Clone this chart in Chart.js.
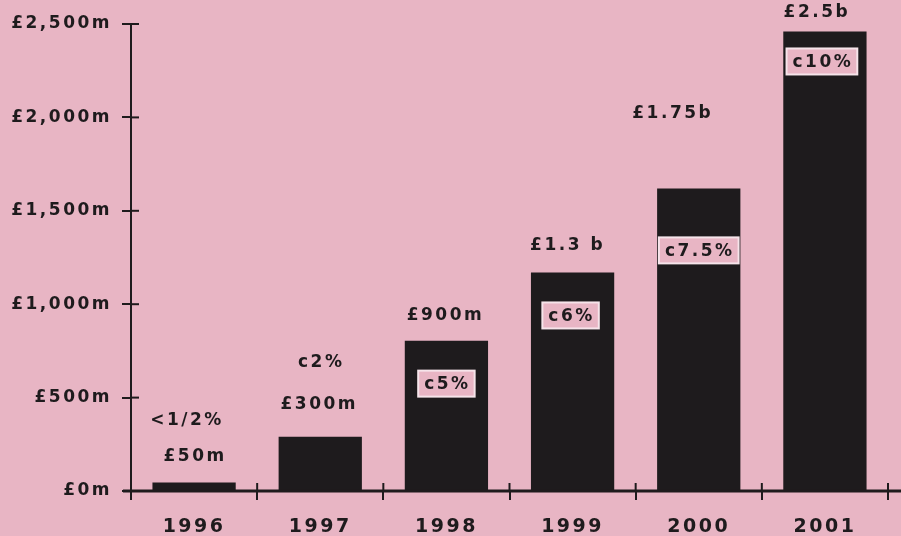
<!DOCTYPE html>
<html>
<head>
<meta charset="utf-8">
<title>Spending 1996-2001</title>
<script src="https://cdn.jsdelivr.net/npm/chart.js@4.4.0/dist/chart.umd.min.js"></script>
<style>
  html, body { margin: 0; padding: 0; background: #e8b5c4; }
  #wrap { width: 901px; height: 536px; }
</style>
</head>
<body>
<div id="wrap"><canvas id="myChart" width="901" height="536"></canvas></div>
<script>
// data
const years = ['1996', '1997', '1998', '1999', '2000', '2001'];
const spendM = [45, 290, 805, 1170, 1620, 2460];
const spendLabels = ['£50m', '£300m', '£900m', '£1.3 b', '£1.75b', '£2.5b'];
const shareLabels = ['<1/2%', 'c2%', 'c5%', 'c6%', 'c7.5%', 'c10%'];
const yTickValues = [0, 500, 1000, 1500, 2000, 2500];

// label placement relative to bar top (px), kept apart from the data
const valueOffset = [-26, -32, -25, -27, -75, -19];
const valueShiftX = [0, -2, -2, -6, -27, -9];
const shareOffset = [-63, -75, 43, 43, 62, 30];
const shareShiftX = [-8, 0, 0, -2, 0, -3];

const ink = '#1e1b1d';
const pink = '#e8b5c4';
const font = '"DejaVu Sans", Verdana, sans-serif';
const spacing = '2.5px';

// ticks inside the plot, axis line and labels
const extras = {
  id: 'extras',
  beforeDraw(chart) {
    chart.ctx.letterSpacing = spacing;
  },
  afterDraw(chart) {
    const ctx = chart.ctx;
    const x = chart.scales.x, y = chart.scales.y;
    const y0 = y.getPixelForValue(0);
    ctx.save();
    ctx.letterSpacing = '0px';
    ctx.strokeStyle = ink;
    // long baseline
    ctx.lineWidth = 3;
    ctx.beginPath();
    ctx.moveTo(y.right - 8, y0);
    ctx.lineTo(chart.width, y0);
    ctx.stroke();
    // inner halves of y ticks
    ctx.lineWidth = 2;
    yTickValues.forEach(v => {
      const py = y.getPixelForValue(v);
      ctx.beginPath();
      ctx.moveTo(x.left, py);
      ctx.lineTo(x.left + 8, py);
      ctx.stroke();
    });
    // upper halves of x ticks
    for (let i = 0; i <= years.length; i++) {
      const px = x.getPixelForValue(i - 0.5);
      ctx.beginPath();
      ctx.moveTo(px, y0 - 8);
      ctx.lineTo(px, y0);
      ctx.stroke();
    }
    ctx.restore();

    ctx.save();
    ctx.letterSpacing = spacing;
    ctx.font = 'bold 17px ' + font;
    ctx.textAlign = 'center';
    ctx.textBaseline = 'middle';
    ctx.fillStyle = ink;
    const bars = chart.getDatasetMeta(0).data;
    bars.forEach((bar, i) => {
      ctx.fillText(spendLabels[i], bar.x + valueShiftX[i] + 1, bar.y + valueOffset[i]);
      const sx = bar.x + shareShiftX[i];
      const sy = bar.y + shareOffset[i];
      if (shareOffset[i] > 0) {
        const w = ctx.measureText(shareLabels[i]).width + 10;
        const h = 26;
        ctx.fillStyle = pink;
        ctx.fillRect(sx - w / 2, sy - h / 2, w, h);
        ctx.strokeStyle = '#f6e4ea';
        ctx.lineWidth = 2;
        ctx.strokeRect(sx - w / 2, sy - h / 2, w, h);
        ctx.fillStyle = ink;
      }
      ctx.fillText(shareLabels[i], sx + 1, sy + 1);
    });
    ctx.restore();
  }
};

new Chart(document.getElementById('myChart').getContext('2d'), {
  type: 'bar',
  data: {
    labels: years,
    datasets: [{
      data: spendM,
      backgroundColor: ink,
      borderWidth: 0,
      barPercentage: 0.66,
      categoryPercentage: 1
    }]
  },
  options: {
    responsive: false,
    animation: false,
    layout: { padding: { top: 24, right: 13, left: 0, bottom: 0 } },
    plugins: {
      legend: { display: false },
      tooltip: { enabled: false }
    },
    scales: {
      x: {
        afterFit(scale) { scale.height = 45; },
        border: { display: false },
        grid: {
          offset: true,
          drawOnChartArea: false,
          drawTicks: true,
          tickLength: 9,
          color: ink,
          lineWidth: 2
        },
        ticks: {
          color: ink,
          padding: 16,
          maxRotation: 0,
          minRotation: 0,
          font: { family: font, size: 19, weight: 'bold' }
        }
      },
      y: {
        min: 0,
        max: 2500,
        afterFit(scale) { scale.width = 131; },
        afterBuildTicks(scale) { scale.ticks = yTickValues.map(v => ({ value: v })); },
        border: { display: true, color: ink, width: 2 },
        grid: {
          drawOnChartArea: false,
          drawTicks: true,
          tickLength: 9,
          color: ink,
          lineWidth: 2
        },
        ticks: {
          color: ink,
          padding: 10,
          font: { family: font, size: 17, weight: 'bold' },
          callback: v => '£' + v.toLocaleString('en-GB') + 'm'
        }
      }
    }
  },
  plugins: [extras]
});
</script>
</body>
</html>
